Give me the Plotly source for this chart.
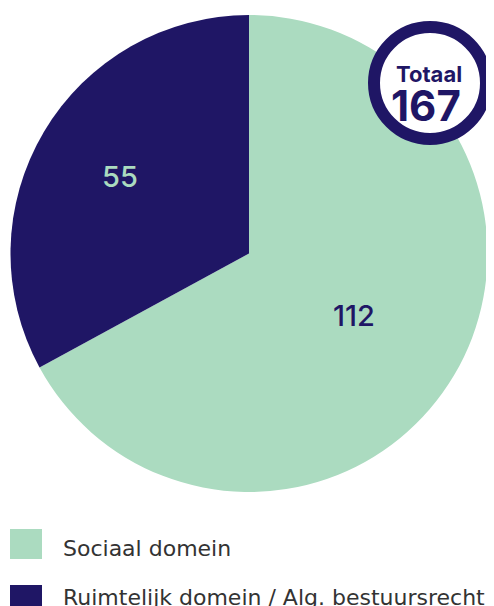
import math
import plotly.graph_objects as go

labels = ["Sociaal domein", "Ruimtelijk domein / Alg. bestuursrecht"]
values = [112, 55]
colors = ["#abdbc0", "#1f1665"]
text_colors = ["#1f1665", "#abdbc0"]
total_label = "Totaal"
total_value = sum(values)

# page has an 8px body margin; work in page pixels and convert
OFF = 8
W, H = 494 - OFF, 606 - OFF
NUM_FONT = "Inter"
TXT_FONT = "DejaVu Sans"

def px(x):
    return (x - OFF) / W

def py(y):
    return 1 - (y - OFF) / H

# pie geometry (page pixels)
CX, CY, R = 249, 253.5, 238.5
label_radius = [0.51, 0.63]

fig = go.Figure()
fig.add_trace(go.Pie(
    labels=labels,
    values=values,
    sort=False,
    direction="clockwise",
    rotation=0,
    marker=dict(colors=colors, line=dict(width=0)),
    textinfo="none",
    domain=dict(x=[px(CX - R), px(CX + R)], y=[py(CY + R), py(CY - R)]),
    showlegend=False,
    hoverinfo="label+value",
))

annotations = []
cum = 0
for v, tc, f in zip(values, text_colors, label_radius):
    theta = 2 * math.pi * (cum + v / 2) / total_value
    cum += v
    lx = CX + R * f * math.sin(theta)
    ly = CY - R * f * math.cos(theta)
    annotations.append(dict(text=str(v), x=px(lx), y=py(ly), xref="paper", yref="paper",
                            showarrow=False,
                            font=dict(size=29, color=tc, family=NUM_FONT, weight=500),
                            xanchor="center", yanchor="middle"))

shapes = []
# total badge
shapes.append(dict(type="circle", xref="paper", yref="paper",
                   x0=px(374), x1=px(486), y0=py(139), y1=py(27),
                   fillcolor="white", line=dict(color=colors[1], width=12)))
# legend squares
leg_y = [544, 600]
for c, yc in zip(colors, leg_y):
    shapes.append(dict(type="rect", xref="paper", yref="paper",
                       x0=px(10), x1=px(42), y0=py(yc + 15), y1=py(yc - 15),
                       fillcolor=c, line=dict(width=0)))

annotations += [
    dict(text="<b>" + total_label + "</b>", x=px(429), y=py(74), xref="paper", yref="paper",
         showarrow=False, font=dict(size=22, color=colors[1], family=NUM_FONT),
         xanchor="center", yanchor="middle"),
    dict(text="<b>" + str(total_value) + "</b>", x=px(426), y=py(105), xref="paper", yref="paper",
         showarrow=False, font=dict(size=42, color=colors[1], family=NUM_FONT),
         xanchor="center", yanchor="middle"),
]
for lab, yc in zip(labels, [548, 597]):
    annotations.append(dict(text=lab, x=px(61), y=py(yc), xref="paper", yref="paper",
                            showarrow=False, font=dict(size=22, color="#333333", family=TXT_FONT),
                            xanchor="left", yanchor="middle"))

fig.update_layout(
    width=W, height=H,
    margin=dict(l=0, r=0, t=0, b=0),
    paper_bgcolor="white",
    plot_bgcolor="white",
    shapes=shapes,
    annotations=annotations,
)

fig.write_html("out.html")
